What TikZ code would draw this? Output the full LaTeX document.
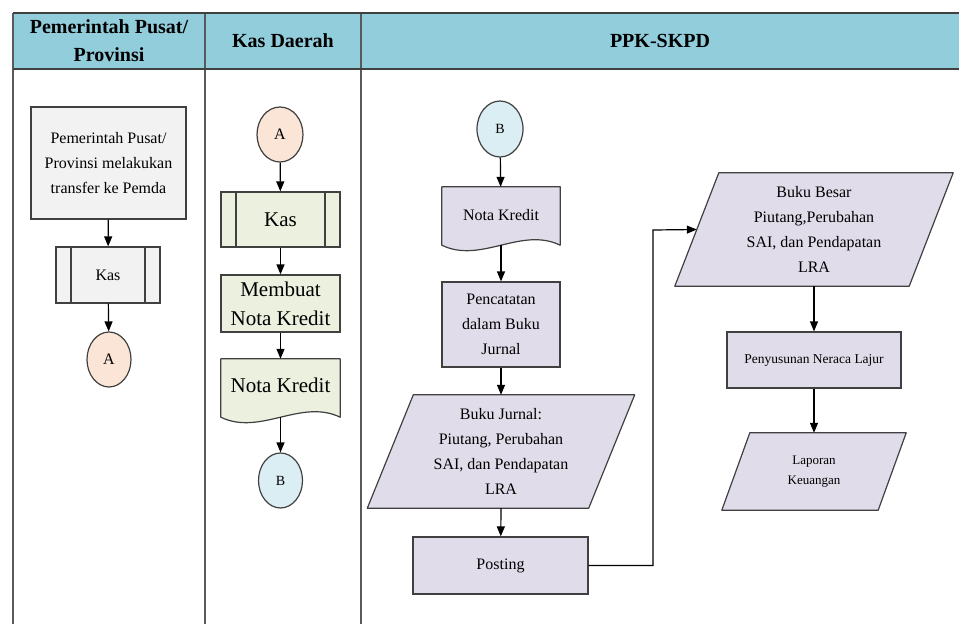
\documentclass[tikz,border=0pt]{standalone}
\usepackage{fontspec}
\setmainfont{Liberation Serif}
\usetikzlibrary{arrows.meta,shapes.geometric,calc,backgrounds}

\definecolor{hdrfill}{HTML}{92CDDC}
\definecolor{grayfill}{HTML}{F2F2F2}
\definecolor{peachfill}{HTML}{FBE5D6}
\definecolor{greenfill}{HTML}{EBF1DE}
\definecolor{bluefill}{HTML}{DAEEF3}
\definecolor{lavfill}{HTML}{E1DCEA}
\definecolor{edgecol}{HTML}{404040}
\definecolor{lanecol}{HTML}{5A5A5A}

% parallelogram drawn around an invisible text node: #1 node, #2 half slant
\newcommand\drawpara[2]{%
  \filldraw[fill=lavfill,draw=edgecol,line width=1.2pt,line join=round]
    ($(#1.north west)+(#2,0)$) -- ($(#1.north east)+(#2,0)$) --
    ($(#1.south east)+(-#2,0)$) -- ($(#1.south west)+(-#2,0)$) -- cycle;}
% document symbol with a wavy lower edge: #1 node, #2 fill colour
\newcommand\drawdoc[2]{%
  \filldraw[fill=#2,draw=edgecol,line width=1.2pt,line join=round]
    (#1.north west) -- (#1.north east) -- (#1.south east)
    .. controls ($(#1.south east)!0.33!(#1.south west)+(0,-19)$)
    and ($(#1.south east)!0.67!(#1.south west)+(0,19)$) .. (#1.south west) -- cycle;}

\begin{document}
\begin{tikzpicture}[x=1pt,y=-1pt,
  box/.style={draw=edgecol,line width=1.2pt,inner sep=0pt,align=center,
    font=\fontsize{16}{25}\selectfont},
  predef/.style={box,path picture={
    \draw[edgecol,line width=1.2pt]
      ([xshift=15pt]path picture bounding box.north west) --
      ([xshift=15pt]path picture bounding box.south west)
      ([xshift=-15pt]path picture bounding box.north east) --
      ([xshift=-15pt]path picture bounding box.south east);}},
  conn/.style={ellipse,draw=edgecol,line width=1.2pt,inner sep=0pt,
    font=\fontsize{16}{18}\selectfont},
  plain/.style={rectangle,inner sep=0pt,align=center,
    font=\fontsize{16}{25}\selectfont},
  hdrtext/.style={font=\fontsize{20}{28}\selectfont\bfseries,align=center},
  arr/.style={-{Triangle[length=10pt,width=8pt]},line width=1.2pt,black}
]
\useasboundingbox (0,0) rectangle (959,624);

% swimlanes and header band
\begin{scope}[on background layer]
  \fill[hdrfill] (13,13) rectangle (959,69);
  \draw[lanecol,line width=1.4pt] (13,13) -- (13,624) (205,13) -- (205,624) (361,13) -- (361,624);
  \draw[edgecol,line width=2pt] (13,13) -- (959,13) (13,69) -- (959,69);
\end{scope}
\node[hdrtext] (h1) at (109,41) {Pemerintah Pusat/\\Provinsi};
\node[hdrtext] (h2) at (283,41) {Kas Daerah};
\node[hdrtext] (h3) at (660,41) {PPK-SKPD};

% lane 1: Pemerintah Pusat / Provinsi
\node[box,fill=grayfill,minimum width=155pt,minimum height=112pt] (tr) at (108.5,163)
  {Pemerintah Pusat/\\Provinsi melakukan\\transfer ke Pemda};
\node[predef,fill=grayfill,minimum width=104pt,minimum height=56pt] (kas1) at (108,275) {Kas};
\node[conn,fill=peachfill,minimum width=44pt,minimum height=55pt] (a1) at (109,359.5) {A};

% lane 2: Kas Daerah
\node[conn,fill=peachfill,minimum width=46pt,minimum height=55pt] (a2) at (280,134.5) {A};
\node[predef,fill=greenfill,minimum width=119pt,minimum height=55pt,
  font=\fontsize{21}{29}\selectfont] (kas2) at (280.5,219.5) {Kas};
\node[box,fill=greenfill,minimum width=119pt,minimum height=57pt,
  font=\fontsize{21}{29}\selectfont] (nk) at (280.5,303.5) {Membuat\\Nota Kredit};
\node[plain,minimum width=119pt,minimum height=58pt,
  font=\fontsize{21}{29}\selectfont] (doc2) at (280.5,388) {\raisebox{6pt}{Nota Kredit}};
\node[conn,fill=bluefill,minimum width=44pt,minimum height=55pt,
  font=\fontsize{14}{16}\selectfont] (b1) at (280.5,480.5) {B};

% lane 3: PPK-SKPD
\node[conn,fill=bluefill,minimum width=46pt,minimum height=56pt,
  font=\fontsize{14}{16}\selectfont] (b2) at (500,129) {B};
\node[plain,minimum width=118pt,minimum height=58pt] (doc3) at (501,216) {\raisebox{3pt}{Nota Kredit}};
\node[box,fill=lavfill,minimum width=118pt,minimum height=85pt] (pj) at (501,324.5)
  {Pencatatan\\dalam Buku\\Jurnal};
\node[plain,minimum width=221pt,minimum height=113pt] (bj) at (501,451.5)
  {Buku Jurnal:\\Piutang, Perubahan\\SAI, dan Pendapatan\\LRA};
\node[box,fill=lavfill,minimum width=175pt,minimum height=57pt] (post) at (500.5,565.5) {Posting};
\node[plain,minimum width=234pt,minimum height=113pt] (bb) at (814,229.5)
  {Buku Besar\\Piutang,Perubahan\\SAI, dan Pendapatan\\LRA};
\node[box,fill=lavfill,minimum width=174pt,minimum height=56pt,
  font=\fontsize{13.5}{18}\selectfont] (pn) at (814,360) {Penyusunan Neraca Lajur};
\node[plain,minimum width=156pt,minimum height=77pt,
  font=\fontsize{13}{20}\selectfont] (lk) at (814,471.5) {Laporan\\Keuangan};

% symbol outlines behind their labels
\begin{scope}[on background layer]
  \drawdoc{doc2}{greenfill}
  \drawdoc{doc3}{lavfill}
  \drawpara{bj}{23}
  \drawpara{bb}{22}
  \drawpara{lk}{14}
\end{scope}

% flow
\draw[arr] (tr) -- (kas1);
\draw[arr] (kas1) -- (a1);
\draw[arr] (a2) -- (kas2);
\draw[arr] (kas2) -- (nk);
\draw[arr] (nk) -- (doc2);
\draw[arr] (doc2.south) -- (b1);
\draw[arr] (b2) -- (doc3);
\draw[arr] (doc3.south) -- (pj);
\draw[arr] (pj) -- (bj.north);
\draw[arr] (bj.south) -- (post);
\coordinate (bend) at (653,230);
\draw[arr] (post.east) -| (bend) -- (bb.west);
\draw[arr] (bb.south) -- (pn);
\draw[arr] (pn) -- (lk.north);
\end{tikzpicture}
\end{document}
